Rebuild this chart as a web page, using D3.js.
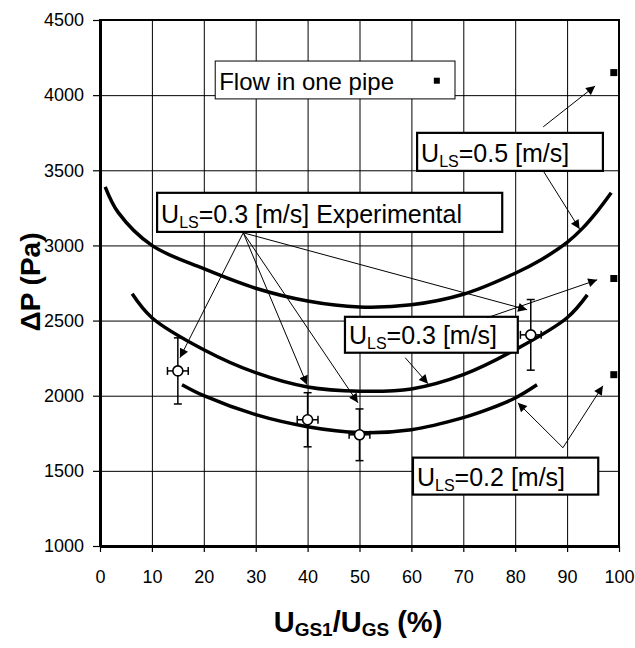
<!DOCTYPE html>
<html lang="en">
<head>
    <meta charset="UTF-8">
    <title>Pressure drop vs gas split</title>
    <script src="https://cdnjs.cloudflare.com/ajax/libs/d3/7.8.5/d3.min.js"></script>
    <style>
        body { margin: 0; background: #fff; }
        svg text { font-family: "Liberation Sans", Arial, sans-serif; }
    </style>
</head>
<body>
    <svg id="chart" width="635" height="648"></svg>
    <script>
        // Tick labels
        const xTickValues = [0, 10, 20, 30, 40, 50, 60, 70, 80, 90, 100];
        const yTickValues = [1000, 1500, 2000, 2500, 3000, 3500, 4000, 4500];

        // Model curves [UGS1/UGS %, dP Pa]
        const curveULS05 = [[1, 3390], [3.5, 3220], [10, 3000], [20, 2845], [30, 2715], [40, 2630],
            [50, 2590], [60, 2605], [70, 2675], [80, 2815], [85, 2905], [90, 3020], [93, 3115],
            [96, 3235], [98.5, 3350]];
        const curveULS03 = [[6.2, 2678], [10, 2519], [20, 2306], [30, 2153], [40, 2058], [50, 2030],
            [60, 2045], [70, 2140], [80, 2306], [90, 2519], [93.9, 2671]];
        const curveULS02 = [[15.8, 2073], [20, 2000], [30, 1874], [40, 1794], [50, 1755], [60, 1774],
            [70, 1854], [75, 1912], [80, 1985], [84.2, 2073]];

        // Experimental points at ULS=0.3 with error bars
        const expX = [15, 40, 50, 83];
        const expY = [2165, 1840, 1740, 2405];
        const expErrY = [220, 180, 172, 235];
        const expErrX = [2, 2, 2, 2];

        // Flow in one pipe
        const onePipeX = [99, 99, 99];
        const onePipeY = [4150, 2780, 2140];

        // Set up dimensions
        const margin = { top: 20, right: 16, bottom: 102, left: 100 };
        const width = 519;
        const height = 526;

        const svg = d3.select("#chart");
        const g = svg.append("g").attr("transform", `translate(${margin.left},${margin.top})`);

        const x = d3.scaleLinear().domain([0, 100]).range([0, width]);
        const y = d3.scaleLinear().domain([1000, 4500]).range([height, 0]);

        // Grid
        g.append("g")
            .attr("transform", `translate(0,${height})`)
            .call(d3.axisBottom(x).tickValues(xTickValues).tickSize(-height).tickFormat(""))
            .call(s => s.select(".domain").remove())
            .selectAll("line").attr("stroke", "#000").attr("stroke-width", 1);
        g.append("g")
            .call(d3.axisLeft(y).tickValues(yTickValues).tickSize(-width).tickFormat(""))
            .call(s => s.select(".domain").remove())
            .selectAll("line").attr("stroke", "#000").attr("stroke-width", 1);

        // Frame
        g.append("rect")
            .attr("width", width).attr("height", height)
            .attr("fill", "none").attr("stroke", "#000").attr("stroke-width", 2);

        // Axes
        const xAxis = g.append("g")
            .attr("transform", `translate(0,${height})`)
            .call(d3.axisBottom(x).tickValues(xTickValues).tickFormat(d3.format("d"))
                .tickSize(6).tickPadding(18).tickSizeOuter(0));
        xAxis.attr("font-family", null);
        xAxis.select(".domain").attr("stroke-width", 3);
        xAxis.selectAll("line").attr("stroke-width", 1.2);
        xAxis.selectAll("text").attr("font-size", 18).attr("fill", "#000");

        const yAxis = g.append("g")
            .call(d3.axisLeft(y).tickValues(yTickValues).tickFormat(d3.format("d"))
                .tickSize(7).tickPadding(9).tickSizeOuter(0));
        yAxis.attr("font-family", null);
        yAxis.select(".domain").attr("stroke-width", 3);
        yAxis.selectAll("line").attr("stroke-width", 1.2);
        yAxis.selectAll("text").attr("font-size", 18).attr("fill", "#000");

        // Curves
        const line = d3.line().x(d => x(d[0])).y(d => y(d[1])).curve(d3.curveCatmullRom);
        [curveULS05, curveULS03, curveULS02].forEach(c => {
            g.append("path")
                .datum(c)
                .attr("fill", "none")
                .attr("stroke", "#000")
                .attr("stroke-width", 3.5)
                .attr("d", line);
        });

        // Error bars
        const exp = expX.map((v, i) => ({ x: v, y: expY[i], ey: expErrY[i], ex: expErrX[i] }));
        const eb = g.append("g").attr("stroke", "#000").attr("stroke-width", 1.5);
        exp.forEach(d => {
            eb.append("line").attr("x1", x(d.x)).attr("x2", x(d.x)).attr("y1", y(d.y - d.ey)).attr("y2", y(d.y + d.ey));
            eb.append("line").attr("x1", x(d.x) - 4).attr("x2", x(d.x) + 4).attr("y1", y(d.y - d.ey)).attr("y2", y(d.y - d.ey));
            eb.append("line").attr("x1", x(d.x) - 4).attr("x2", x(d.x) + 4).attr("y1", y(d.y + d.ey)).attr("y2", y(d.y + d.ey));
            eb.append("line").attr("x1", x(d.x - d.ex)).attr("x2", x(d.x + d.ex)).attr("y1", y(d.y)).attr("y2", y(d.y));
            eb.append("line").attr("x1", x(d.x - d.ex)).attr("x2", x(d.x - d.ex)).attr("y1", y(d.y) - 4).attr("y2", y(d.y) + 4);
            eb.append("line").attr("x1", x(d.x + d.ex)).attr("x2", x(d.x + d.ex)).attr("y1", y(d.y) - 4).attr("y2", y(d.y) + 4);
        });
        g.append("g")
            .selectAll("circle")
            .data(exp)
            .join("circle")
            .attr("cx", d => x(d.x))
            .attr("cy", d => y(d.y))
            .attr("r", 5)
            .attr("fill", "#fff")
            .attr("stroke", "#000")
            .attr("stroke-width", 1.6);

        // Flow in one pipe markers
        g.append("g")
            .selectAll("rect")
            .data(onePipeX.map((v, i) => [v, onePipeY[i]]))
            .join("rect")
            .attr("x", d => x(d[0]) - 3.5)
            .attr("y", d => y(d[1]) - 3.5)
            .attr("width", 7)
            .attr("height", 7)
            .attr("fill", "#000");

        // Label boxes (data-space corners)
        const boxes = [
            { x0: 22.2, x1: 68.4, y0: 4227, y1: 3975, sw: 1, parts: [["Flow in one pipe", false]], size: 24 },
            { x0: 61.1, x1: 96.9, y0: 3749, y1: 3496, sw: 2.2, parts: [["U", false], ["LS", true], ["=0.5 [m/s]", false]], size: 25 },
            { x0: 11.0, x1: 77.5, y0: 3350, y1: 3090, sw: 2.2, parts: [["U", false], ["LS", true], ["=0.3 [m/s] Experimental", false]], size: 25 },
            { x0: 47.2, x1: 80.5, y0: 2525, y1: 2286, sw: 2.2, parts: [["U", false], ["LS", true], ["=0.3 [m/s]", false]], size: 25 },
            { x0: 60.3, x1: 96.0, y0: 1588, y1: 1342, sw: 2.2, parts: [["U", false], ["LS", true], ["=0.2 [m/s]", false]], size: 25 }
        ];
        boxes.forEach(b => {
            g.append("rect")
                .attr("x", x(b.x0)).attr("y", y(b.y0))
                .attr("width", x(b.x1) - x(b.x0)).attr("height", y(b.y1) - y(b.y0))
                .attr("fill", "#fff").attr("stroke", "#000").attr("stroke-width", b.sw);
            const t = g.append("text")
                .attr("x", x(b.x0) + 4)
                .attr("y", y(b.y1) - 9)
                .attr("font-size", b.size);
            b.parts.forEach(([s, sub], i) => {
                const ts = t.append("tspan").text(s);
                if (sub) ts.attr("font-size", 16).attr("dy", 5);
                else if (i > 0) ts.attr("dy", -5);
            });
        });
        // marker inside the "Flow in one pipe" box
        g.append("rect")
            .attr("x", x(64.9) - 3).attr("y", y(4096) - 3)
            .attr("width", 6).attr("height", 6).attr("fill", "#000");

        // Arrows (data-space from -> to)
        const arrows = [
            [85.4, 3789, 95.4, 4061],
            [85.4, 3496, 92.4, 3110],
            [27.6, 3084, 15.4, 2253],
            [27.6, 3084, 39.9, 2073],
            [27.6, 3084, 49.7, 1953],
            [27.6, 3084, 82.3, 2572],
            [58.8, 2253, 63.2, 2080],
            [74.6, 2519, 95.8, 2771],
            [89.2, 1654, 80.5, 1953],
            [89.2, 1654, 96.9, 2066]
        ];
        svg.append("defs").append("marker")
            .attr("id", "head")
            .attr("viewBox", "0 0 10 10")
            .attr("refX", 10).attr("refY", 5)
            .attr("markerWidth", 11).attr("markerHeight", 9)
            .attr("markerUnits", "userSpaceOnUse")
            .attr("orient", "auto")
            .append("path")
            .attr("d", "M0,0 L10,5 L0,10 Z")
            .attr("fill", "#000");
        g.append("g")
            .selectAll("line")
            .data(arrows)
            .join("line")
            .attr("x1", d => x(d[0])).attr("y1", d => y(d[1]))
            .attr("x2", d => x(d[2])).attr("y2", d => y(d[3]))
            .attr("stroke", "#000")
            .attr("stroke-width", 1)
            .attr("marker-end", "url(#head)");

        // Axis titles
        svg.append("text")
            .attr("transform", "translate(40,282) rotate(-90)")
            .attr("text-anchor", "middle")
            .attr("font-size", 28)
            .attr("font-weight", "bold")
            .text("ΔP (Pa)");

        const xt = svg.append("text")
            .attr("x", 358)
            .attr("y", 632)
            .attr("text-anchor", "middle")
            .attr("font-size", 29)
            .attr("font-weight", "bold");
        xt.append("tspan").text("U");
        xt.append("tspan").text("GS1").attr("font-size", 19).attr("dy", 4);
        xt.append("tspan").text("/U").attr("dy", -4);
        xt.append("tspan").text("GS").attr("font-size", 19).attr("dy", 4);
        xt.append("tspan").text(" (%)").attr("dy", -4);
    </script>
</body>
</html>
